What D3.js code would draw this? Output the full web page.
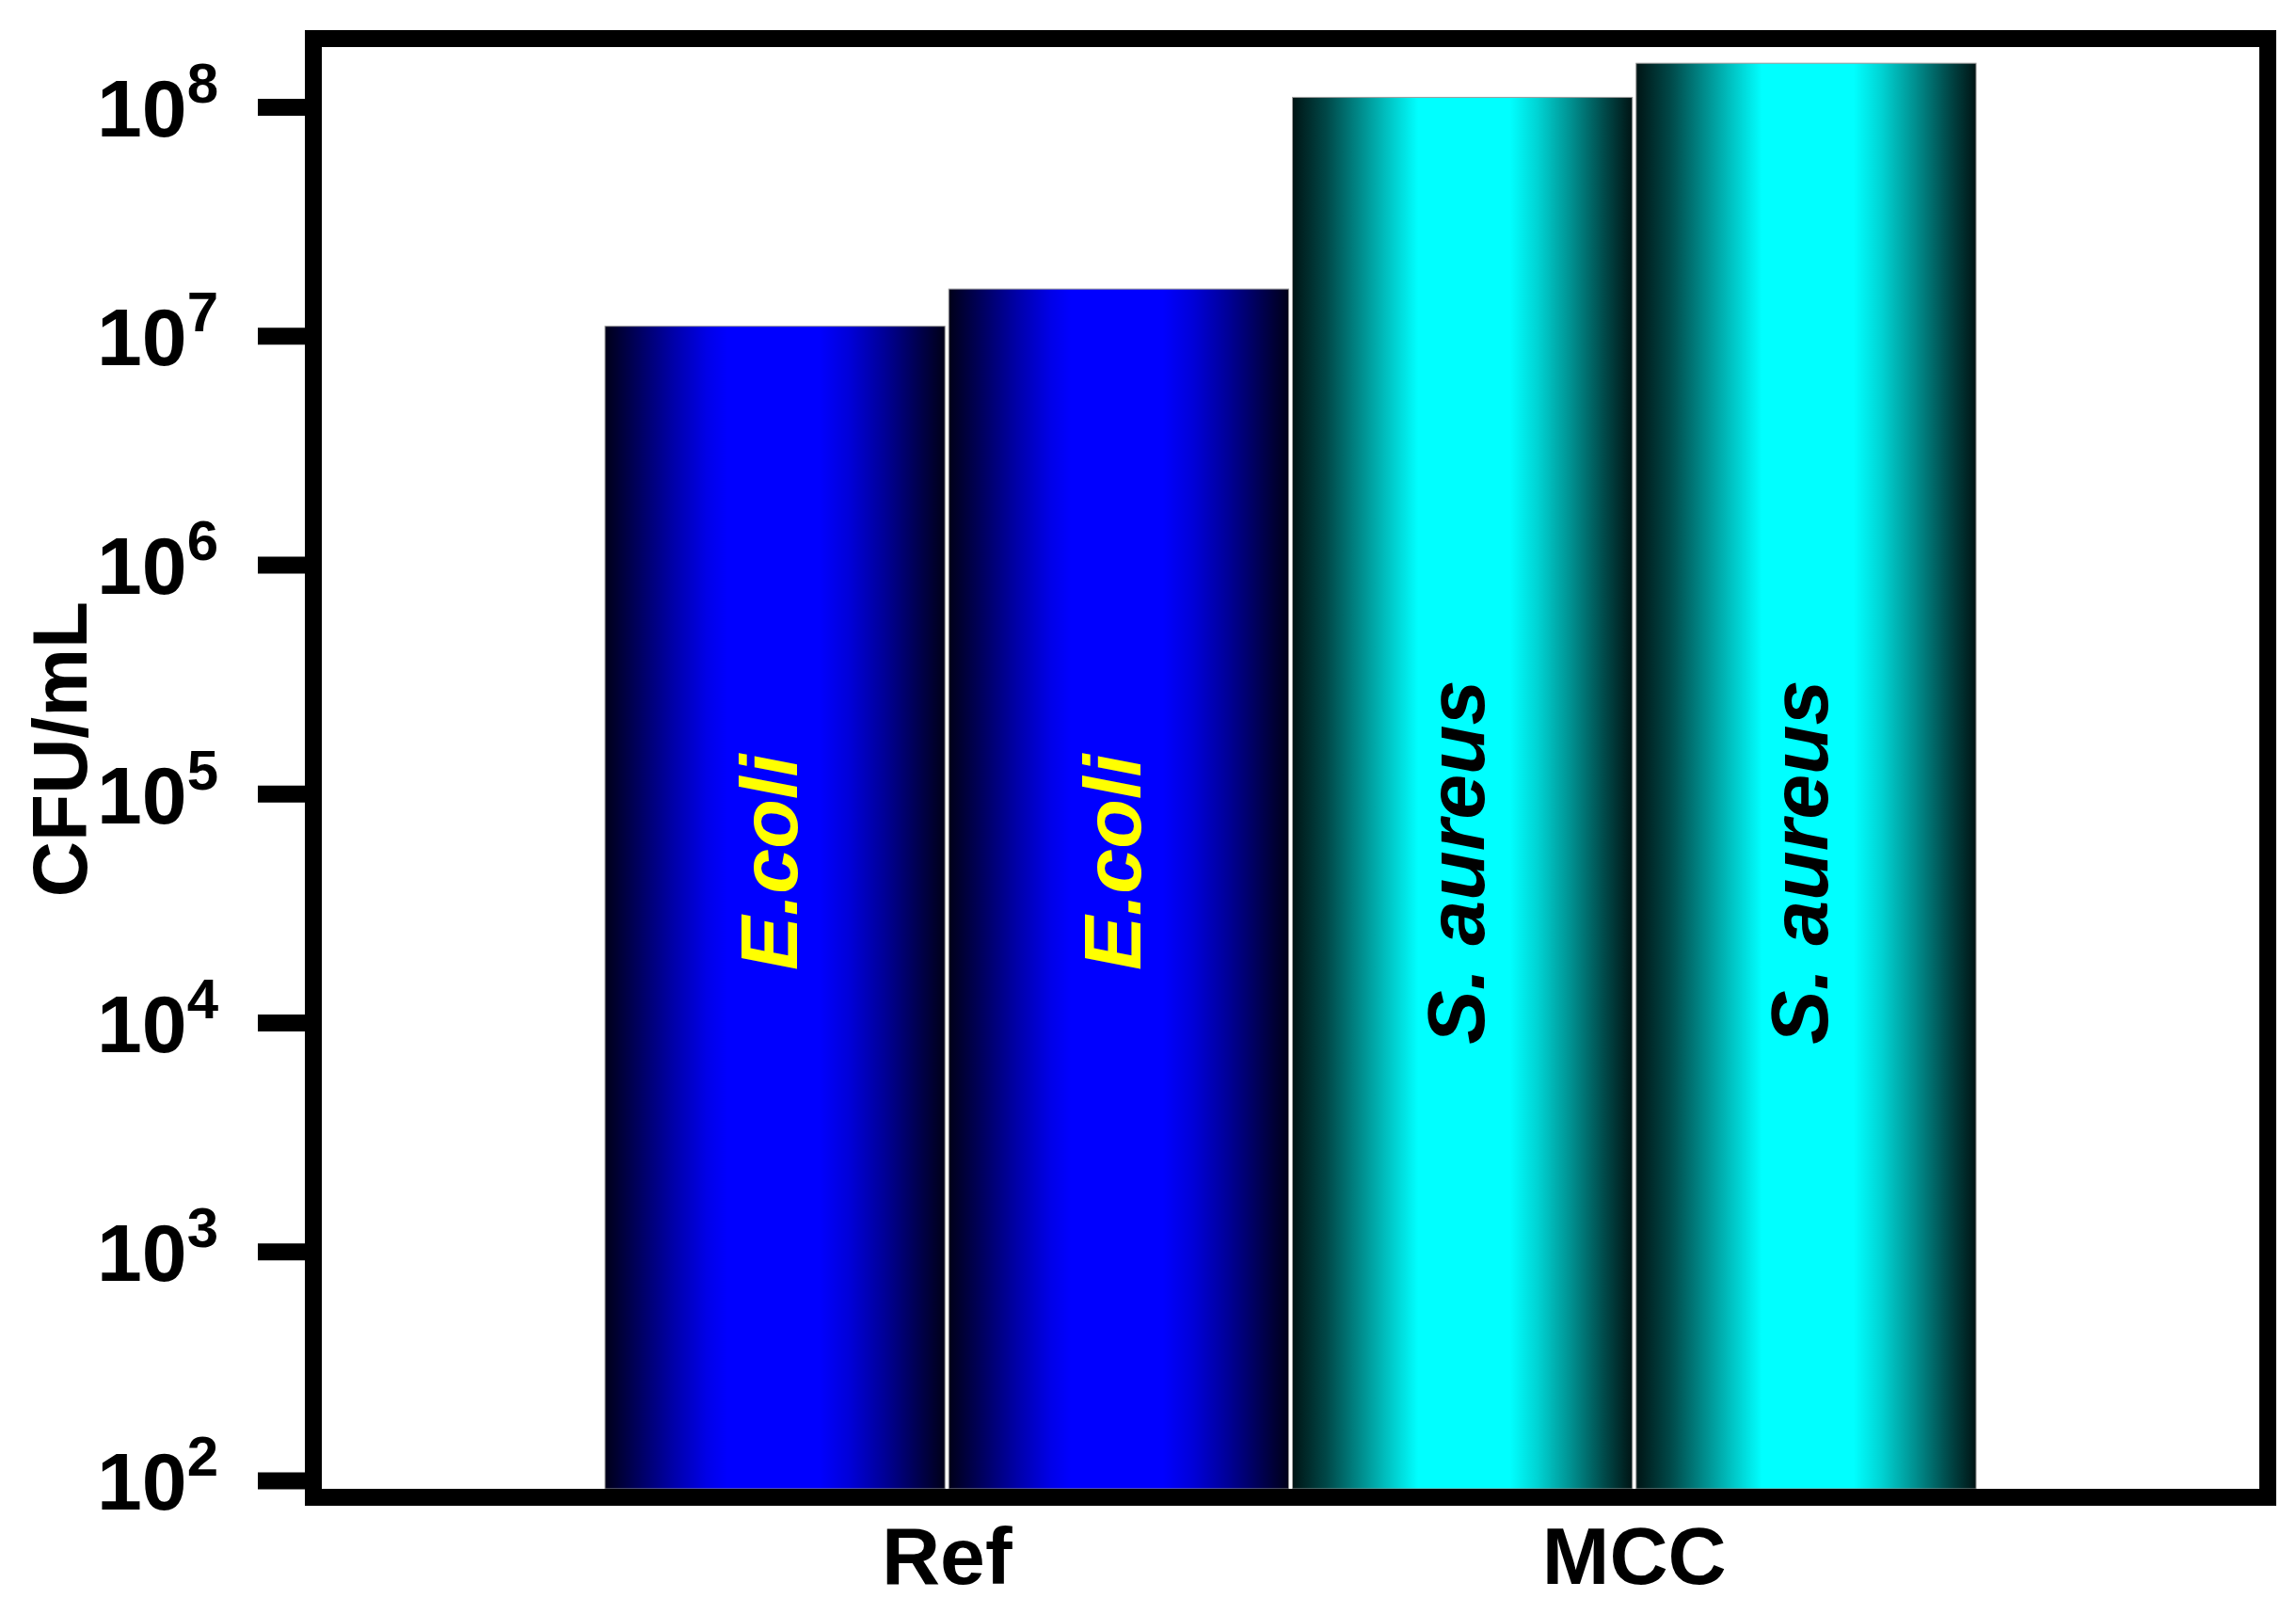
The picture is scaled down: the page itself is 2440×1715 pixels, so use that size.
<!DOCTYPE html>
<html>
<head>
<meta charset="utf-8">
<script src="https://cdn.jsdelivr.net/npm/d3@7"></script>
<style>
  body { margin: 0; background: #fff; }
  svg { display: block; font-family: Arial, "Liberation Sans", sans-serif; }
</style>
</head>
<body>
<svg id="chart" width="2440" height="1715"></svg>
<script>
// chart values
var groups = ['Ref', 'MCC'];
var barGroup = ['Ref', 'Ref', 'MCC', 'MCC'];
var barSpecies = ['E.coli', 'E.coli', 'S. aureus', 'S. aureus'];
var barValues = [1.1e7, 1.6e7, 1.1e8, 1.55e8];
var yTicks = [1e2, 1e3, 1e4, 1e5, 1e6, 1e7, 1e8];
var yLabel = 'CFU/mL';

var svg = d3.select('#chart');

// plot area (inside of the thick frame)
var plot = {left: 342, right: 2401, top: 50, bottom: 1582};
var frameW = 18;

var yScale = d3.scaleLog().domain([1e2, 1e8]).range([1573, 113.5]);

var x0 = d3.scaleBand().domain(groups)
           .range([plot.left, plot.right])
           .paddingInner(0.0055).paddingOuter(0.412);
var x1 = d3.scaleBand().domain([0, 1])
           .range([0, x0.bandwidth()])
           .paddingInner(0.011);

var bars = barValues.map(function(v, i) {
  var inGroup = barGroup.slice(0, i).filter(function(g) { return g == barGroup[i]; }).length;
  return {group: barGroup[i], species: barSpecies[i], value: v, slot: inGroup};
});

// horizontal gradients, dark edges and bright middle
var defs = svg.append('defs');
function addGradient(id, stops) {
  var g = defs.append('linearGradient').attr('id', id)
              .attr('x1', '0%').attr('x2', '100%').attr('y1', '0%').attr('y2', '0%');
  stops.forEach(function(s) {
    g.append('stop').attr('offset', s[0]).attr('stop-color', s[1]);
  });
}
addGradient('grad-ecoli', [
  [0, '#000018'], [0.1, '#000060'], [0.2, '#0000a8'], [0.3, '#0000e8'], [0.36, '#0000ff'],
  [0.63, '#0000ff'], [0.72, '#0000d8'], [0.82, '#000098'], [0.92, '#000050'], [1, '#000018']
]);
addGradient('grad-saureus', [
  [0, '#001414'], [0.1, '#004848'], [0.2, '#008c8c'], [0.3, '#00d0d0'], [0.37, '#00ffff'],
  [0.64, '#00ffff'], [0.72, '#00d4d4'], [0.82, '#009090'], [0.92, '#004848'], [1, '#001414']
]);

var gradFor = {'E.coli': 'url(#grad-ecoli)', 'S. aureus': 'url(#grad-saureus)'};
var textFor = {'E.coli': '#ffff00', 'S. aureus': '#000000'};

var barG = svg.append('g').attr('class', 'bars');

barG.selectAll('rect')
    .data(bars)
    .enter().append('rect')
    .attr('x', function(d) { return x0(d.group) + x1(d.slot); })
    .attr('y', function(d) { return yScale(d.value); })
    .attr('width', x1.bandwidth())
    .attr('height', function(d) { return plot.bottom - yScale(d.value); })
    .attr('fill', function(d) { return gradFor[d.species]; })
    .attr('stroke', '#9a9a9a')
    .attr('stroke-width', 1);

// species names written up the bars
var labelY = yScale(Math.pow(10, 4.7));
barG.selectAll('text')
    .data(bars)
    .enter().append('text')
    .attr('transform', function(d) {
      var cx = x0(d.group) + x1(d.slot) + x1.bandwidth() / 2 - 8;
      return 'translate(' + cx + ',' + labelY + ') rotate(-90)';
    })
    .attr('text-anchor', 'middle')
    .attr('dy', '0.36em')
    .style('font-size', '86px')
    .style('font-weight', 'bold')
    .style('font-style', 'italic')
    .attr('fill', function(d) { return textFor[d.species]; })
    .text(function(d) { return d.species; });

// frame
svg.append('rect')
   .attr('x', plot.left - frameW / 2)
   .attr('y', plot.top - frameW / 2)
   .attr('width', plot.right - plot.left + frameW)
   .attr('height', plot.bottom - plot.top + frameW)
   .attr('fill', 'none')
   .attr('stroke', '#000')
   .attr('stroke-width', frameW);

// y axis, log ticks with powers of ten
var yAxis = d3.axisLeft(yScale).tickValues(yTicks).tickSize(50).tickPadding(42)
              .tickFormat(function() { return ''; });
var yG = svg.append('g')
            .attr('transform', 'translate(' + (plot.left - frameW) + ',0)')
            .call(yAxis);
yG.select('.domain').remove();
yG.selectAll('.tick line').attr('stroke', '#000').attr('stroke-width', 18);
yG.selectAll('.tick text')
  .attr('fill', '#000')
  .attr('dy', '0.36em')
  .attr('text-anchor', 'end')
  .style('font-size', '86px')
  .style('font-weight', 'bold')
  .each(function(d) {
    var t = d3.select(this);
    t.append('tspan').text('10');
    t.append('tspan').attr('dy', -36).style('font-size', '60px')
     .text(Math.round(Math.log10(d)));
  });

// x axis category labels
var xAxis = d3.axisBottom(x0).tickSize(0).tickPadding(22);
var xG = svg.append('g')
            .attr('transform', 'translate(0,' + (plot.bottom + frameW) + ')')
            .call(xAxis);
xG.select('.domain').remove();
xG.selectAll('.tick text')
  .attr('fill', '#000')
  .style('font-size', '86px')
  .style('font-weight', 'bold');

// y axis title
svg.append('text')
   .attr('transform', 'translate(92,' + ((plot.top + plot.bottom) / 2 - 20) + ') rotate(-90)')
   .attr('text-anchor', 'middle')
   .style('font-size', '82px')
   .style('font-weight', 'bold')
   .text(yLabel);
</script>
</body>
</html>
